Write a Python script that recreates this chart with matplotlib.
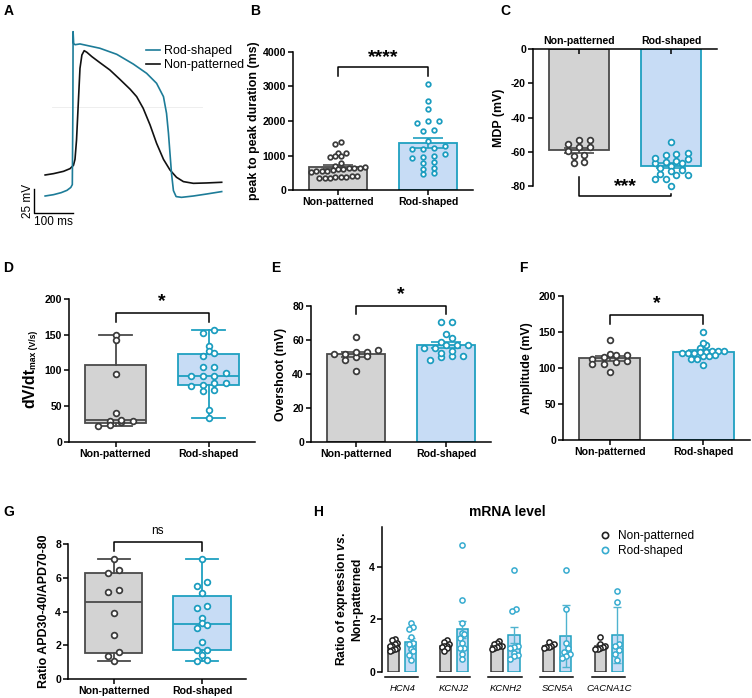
import numpy as np
import matplotlib
matplotlib.use('Agg')
import matplotlib.pyplot as plt
from matplotlib.lines import Line2D

plt.rcParams['font.family'] = ['Liberation Sans', 'DejaVu Sans']
plt.rcParams['font.weight'] = 'bold'
plt.rcParams['axes.labelweight'] = 'bold'
plt.rcParams['axes.unicode_minus'] = False
plt.rcParams['mathtext.fontset'] = 'custom'
plt.rcParams['mathtext.rm'] = 'Liberation Sans:bold'
plt.rcParams['mathtext.bf'] = 'Liberation Sans:bold'
plt.rcParams['mathtext.it'] = 'Liberation Sans:italic:bold'

# ---------------- data ----------------
groups = ['Non-patterned', 'Rod-shaped']

# Panel A: representative action potentials (ms, mV)
a_t_rod = [-72, -50, -30, -15, -5, -1, 0.5, 1, 2.5, 6, 19, 71, 115, 158, 193, 219, 237,
           245, 250, 254, 258, 263, 270, 284, 315, 350, 389]
a_v_rod = [-92.4, -91.0, -88.9, -86.5, -83.5, -80.5, 0.0, 78.8, 66.5, 65.2, 66.0, 61.5, 55.2,
           45.1, 35.4, 25.0, 11.1, -6.3, -27.0, -48.0, -68.8, -86.8, -93.0, -93.8, -92.4, -90.3, -87.8]
a_t_np = [-72, -50, -24, -7, 2, 6, 10, 15, 19, 24, 30, 37, 50, 71, 97, 123, 150, 167, 184,
          202, 219, 237, 254, 271, 289, 315, 350, 389]
a_v_np = [-70.5, -69.1, -66.7, -63.9, -60.4, -54.2, -34.0, 7.6, 40.6, 54.5, 59.0, 57.3, 52.8,
          46.5, 38.9, 29.2, 18.8, 11.1, -1.0, -18.4, -37.5, -54.2, -65.3, -72.9, -77.4, -79.2,
          -78.8, -78.1]

# Panel B: peak to peak duration (ms)
b_np = [1380, 1330, 1080, 1060, 1000, 975, 945, 790, 700, 660, 650, 640, 630, 620, 600, 590,
        560, 550, 540, 530, 420, 400, 390, 380, 370, 360, 350, 340]
b_rs = [3060, 2580, 2360, 2000, 1990, 1950, 1700, 1730, 1420, 1210, 1190, 1200, 1280, 1030,
        960, 940, 1000, 800, 790, 650, 460, 500, 600]

# Panel C: MDP (mV)
c_np = [-53.1, -53.1, -57.0, -55.6, -57.4, -59.3, -61.9, -62.4, -66.7, -65.8]
c_rs = [-60.9, -64.4, -68.1, -73.2, -61.9, -66.3, -71.0, -75.9, -54.4, -61.5, -65.2, -69.3,
        -73.6, -79.8, -63.4, -66.7, -70.6, -75.9, -66.1, -73.6]

# Panel D: dV/dt max (V/s)
d_np = [150, 143, 95, 40, 30, 28, 29, 31, 24, 23]
d_rs = [157, 153, 134, 127, 124, 120, 105, 105, 93, 93, 92, 96, 83, 83, 79, 80, 73, 72, 45, 33]

# Panel E: overshoot (mV)
e_np = [52.8, 51.9, 54.4, 50.1, 52.8, 48.1, 50.7, 51.9, 61.8, 41.5]
e_rs = [70.6, 70.6, 61.4, 63.8, 58.9, 55.4, 50.1, 56.8, 57.0, 55.4, 57.0, 50.5, 50.5, 53.4,
        52.4, 48.1]

# Panel F: amplitude (mV)
f_np = [112.5, 115.7, 105.6, 138.9, 119.0, 109.3, 94.0, 118.0, 105.6, 118.0, 109.0]
f_rs = [150, 132, 135, 120.4, 122.7, 124, 112.5, 124, 116.7, 104, 124, 112.5, 118, 120.4,
        127.4, 116.7, 121.8, 120.4]

# Panel G: ratio APD30-40/APD70-80
g_np = [7.09, 6.46, 6.26, 5.17, 5.27, 3.94, 2.59, 1.60, 1.35, 1.05]
g_rs = [7.11, 5.72, 5.50, 5.11, 4.18, 4.32, 3.62, 3.33, 3.05, 3.19, 2.20, 1.74, 1.70, 1.41,
        1.07, 1.11]

# Panel H: mRNA level
h_genes = ['HCN4', 'KCNJ2', 'KCNH2', 'SCN5A', 'CACNA1C']
h_np = [[1.27, 1.20, 1.10, 1.05, 1.00, 0.97, 0.92, 0.88, 0.82, 0.78],
        [1.22, 1.12, 1.05, 1.00, 0.98, 0.95, 0.90, 0.78],
        [1.18, 1.10, 1.05, 1.00, 0.97, 0.93, 0.90, 0.87],
        [1.15, 1.05, 1.00, 0.95, 0.93, 0.92],
        [1.32, 1.08, 1.00, 0.95, 0.90, 0.88, 0.87]]
h_rs = [[1.87, 1.72, 1.65, 1.32, 1.10, 1.05, 0.88, 0.80, 0.65, 0.45],
        [4.83, 2.74, 1.87, 1.47, 1.45, 1.30, 1.10, 0.92, 0.90, 0.70, 0.48],
        [3.87, 2.40, 2.32, 1.00, 0.95, 0.90, 0.72, 0.65, 0.60, 0.50],
        [3.88, 2.38, 1.10, 0.90, 0.75, 0.70, 0.60, 0.55],
        [3.08, 2.65, 1.08, 1.00, 0.85, 0.70, 0.45]]
h_np_err = [0.05, 0.05, 0.04, 0.04, 0.05]
h_rs_err = [0.15, 0.32, 0.30, 1.17, 1.05]

# ---------------- style ----------------
W, H = 752, 698
fig = plt.figure(figsize=(W / 100, H / 100), dpi=100)

NP_EDGE = '#4a4a4a'
NP_FILL = '#d3d3d3'
RS_EDGE = '#1fa0c0'
RS_FILL = '#c7dcf5'
NP_PT = '#3a3a3a'
RS_PT = '#1a9cbf'
TEAL_TRACE = '#1d7c98'
TICK_FS = 7.6
LAB_FS = 8.9


def rect(x0, y0, x1, y1):
    return [x0 / W, 1 - y1 / H, (x1 - x0) / W, (y1 - y0) / H]


def style(ax, ylim, yticks, xlim=(-0.5, 1.5)):
    for s in ['top', 'right']:
        ax.spines[s].set_visible(False)
    for s in ['left', 'bottom']:
        ax.spines[s].set_linewidth(1.1)
    ax.set_xlim(*xlim)
    ax.set_ylim(*ylim)
    ax.set_yticks(yticks)
    ax.set_xticks([0, 1])
    ax.set_xticklabels(groups)
    ax.tick_params(axis='both', length=3.5, width=1.1, labelsize=TICK_FS, pad=1.5)


def swarm(ax, xc, vals, sp_px, d_px):
    """Row-based scatter layout: points closer than d_px vertically share a row,
    each row is centred on the category."""
    vals = np.asarray(vals, float)
    tr = ax.transData
    pts = tr.transform(np.column_stack([np.full(len(vals), xc), vals]))
    ypix = pts[:, 1]
    x0 = pts[0, 0]
    order = np.argsort(ypix)
    rows = []
    cur = [order[0]]
    for i in order[1:]:
        if ypix[i] - ypix[cur[0]] < d_px:
            cur.append(i)
        else:
            rows.append(cur)
            cur = [i]
    rows.append(cur)
    offs = np.zeros(len(vals))
    for row in rows:
        n = len(row)
        for j, i in enumerate(row):
            offs[i] = (j - (n - 1) / 2) * sp_px
    xs = tr.inverted().transform(np.column_stack([x0 + offs, ypix]))[:, 0]
    return xs


def points(ax, xc, vals, sp, color, s=17, d=4.5, lw=1.25, z=4):
    xs = swarm(ax, xc, vals, sp, d)
    ax.scatter(xs, vals, s=s, facecolor='white', edgecolor=color, linewidth=lw, zorder=z,
               clip_on=False)


def bars(ax, data_list, sps, s=17):
    cols = [(NP_FILL, NP_EDGE, NP_PT), (RS_FILL, RS_EDGE, RS_PT)]
    for i, vals in enumerate(data_list):
        v = np.asarray(vals, float)
        m = v.mean()
        e = v.std(ddof=1) / np.sqrt(len(v))
        fill, edge, pt = cols[i]
        ax.bar(i, m, width=0.65, color=fill, edgecolor=edge, linewidth=1.3, zorder=1)
        ax.errorbar(i, m, yerr=e, color=edge, capsize=11, elinewidth=1.2, capthick=1.2,
                    zorder=3)
        points(ax, i, v, sps[i], pt, s=s)


def boxes(ax, data_list, sps, s=17):
    cols = [(NP_FILL, NP_EDGE, NP_PT), (RS_FILL, RS_EDGE, RS_PT)]
    for i, vals in enumerate(data_list):
        v = np.asarray(vals, float)
        q1, med, q3 = np.percentile(v, [25, 50, 75], method='weibull')
        st = dict(med=med, q1=q1, q3=q3, whislo=v.min(), whishi=v.max(), fliers=[])
        fill, edge, pt = cols[i]
        ax.bxp([st], positions=[i], widths=0.65, patch_artist=True, showfliers=False,
               boxprops=dict(facecolor=fill, edgecolor=edge, linewidth=1.3),
               medianprops=dict(color=edge, linewidth=1.3),
               whiskerprops=dict(color=edge, linewidth=1.3),
               capprops=dict(color=edge, linewidth=1.3), capwidths=0.36,
               manage_ticks=False, zorder=1)
        points(ax, i, v, sps[i], pt, s=s)


def bracket(ax, y_top, y_bot, label, y_text, size=14, weight='bold'):
    ax.plot([0, 0, 1, 1], [y_bot, y_top, y_top, y_bot], color='black', lw=1.1,
            clip_on=False, zorder=5)
    ax.text(0.5, y_text, label, ha='center', va='center', fontsize=size, fontweight=weight,
            clip_on=False)


def panel_letter(x, y, s):
    fig.text(x / W, 1 - y / H, s, fontsize=10, fontweight='bold', ha='left', va='center')


# ---------------- Panel A ----------------
axA = fig.add_axes(rect(20, 20, 240, 235))
axA.set_xlim((20 - 72.7) / 0.383, (240 - 72.7) / 0.383)
axA.set_ylim((107.3 - 235) / 0.96, (107.3 - 20) / 0.96)
axA.axis('off')
axA.plot([-54, 337], [0, 0], color='#ebebeb', lw=0.6, zorder=0)
axA.plot(a_t_np, a_v_np, color='#111111', lw=1.2, label='Non-patterned', zorder=2)
axA.plot(a_t_rod, a_v_rod, color=TEAL_TRACE, lw=1.2, label='Rod-shaped', zorder=3)
vb = (107.3 - 212.7) / 0.96
axA.plot([-100, -100, 0], [vb + 25, vb, vb], color='black', lw=1.0, clip_on=False)
axA.text(-118, vb + 12.5, '25 mV', rotation=90, ha='center', va='center', fontsize=8.5,
         fontweight='normal')
axA.text(-50, vb - 9.5, '100 ms', ha='center', va='center', fontsize=8.5, fontweight='normal')
hA = [Line2D([0], [0], color=TEAL_TRACE, lw=1.2), Line2D([0], [0], color='#111111', lw=1.2)]
fig.legend(hA, ['Rod-shaped', 'Non-patterned'], loc='upper left',
           bbox_to_anchor=(140 / W, 1 - 39 / H), frameon=False,
           handlelength=1.1, handletextpad=0.3, labelspacing=0.15, borderpad=0,
           prop={'weight': 'normal', 'size': 9})

# ---------------- Panel B ----------------
axB = fig.add_axes(rect(293, 52, 473, 190))
style(axB, (0, 4000), [0, 1000, 2000, 3000, 4000])
bars(axB, [b_np, b_rs], [5.4, 11], s=11)
axB.set_ylabel('peak to peak duration (ms)', fontsize=LAB_FS, labelpad=2)
bracket(axB, 3554, 3313, '****', 3830)

# ---------------- Panel C ----------------
axC = fig.add_axes(rect(533, 49, 717, 186))
style(axC, (-80, 0), [0, -20, -40, -60, -80])
axC.spines['bottom'].set_visible(False)
axC.spines['top'].set_visible(True)
axC.spines['top'].set_linewidth(1.1)
axC.xaxis.tick_top()
axC.tick_params(axis='x', direction='in', pad=2)
bars(axC, [c_np, c_rs], [11, 11])
axC.set_ylabel('MDP (mV)', fontsize=LAB_FS, labelpad=4)
axC.plot([0, 0, 1, 1], [-74.6, -85.8, -85.8, -84.6], color='black', lw=1.1, clip_on=False)
axC.text(0.5, -80.5, '***', ha='center', va='center', fontsize=14, fontweight='bold')

# ---------------- Panel D ----------------
axD = fig.add_axes(rect(69, 299, 255, 442))
style(axD, (0, 200), [0, 50, 100, 150, 200])
boxes(axD, [d_np, d_rs], [11.4, 11.4])
fig.text(30 / W, 1 - 388 / H, 'dV/dt', rotation=90, ha='center', va='center', fontsize=11.5,
         fontweight='bold')
fig.text(34 / W, 1 - 350 / H, 'max (V/s)', rotation=90, ha='center', va='center', fontsize=6.2,
         fontweight='bold')
bracket(axD, 181, 168, '*', 196)

# ---------------- Panel E ----------------
axE = fig.add_axes(rect(311, 306, 491, 442))
style(axE, (0, 80), [0, 20, 40, 60, 80])
bars(axE, [e_np, e_rs], [11, 11])
axE.set_ylabel('Overshoot (mV)', fontsize=LAB_FS, labelpad=4)
bracket(axE, 80.2, 75.5, '*', 86.5)

# ---------------- Panel F ----------------
axF = fig.add_axes(rect(563, 296, 750, 440))
style(axF, (0, 200), [0, 50, 100, 150, 200])
bars(axF, [f_np, f_rs], [11.6, 6])
axF.set_ylabel('Amplitude (mV)', fontsize=LAB_FS, labelpad=4)
bracket(axF, 173.6, 161, '*', 189)

# ---------------- Panel G ----------------
axG = fig.add_axes(rect(68, 544, 246, 679))
style(axG, (0, 8), [0, 2, 4, 6, 8], xlim=(-0.52, 1.5))
boxes(axG, [g_np, g_rs], [11, 10.7])
axG.set_ylabel('Ratio APD30-40/APD70-80', fontsize=LAB_FS, labelpad=4)
bracket(axG, 8.1, 7.58, 'ns', 8.75, size=8.5, weight='normal')

# ---------------- Panel H ----------------
axH = fig.add_axes(rect(382, 527, 700, 672))
axH.set_xlim(-0.39, (700 - 402) / 51.7)
axH.set_ylim(0, 5.5)
for s in ['top', 'right', 'bottom']:
    axH.spines[s].set_visible(False)
axH.spines['left'].set_linewidth(1.1)
axH.set_yticks([0, 2, 4])
axH.set_xticks([])
axH.tick_params(axis='y', length=3.5, width=1.1, labelsize=TICK_FS, pad=1.5)
off, bw = 0.165, 0.22
for i, g in enumerate(h_genes):
    vn = np.asarray(h_np[i])
    vr = np.asarray(h_rs[i])
    axH.bar(i - off, vn.mean(), width=bw, color=NP_FILL, edgecolor='#333333', linewidth=1.1,
            zorder=1)
    axH.bar(i + off, vr.mean(), width=bw, color=RS_FILL, edgecolor=RS_EDGE, linewidth=1.1,
            zorder=1)
    axH.errorbar(i - off, vn.mean(), yerr=h_np_err[i], color='#333333', capsize=3,
                 elinewidth=1.0, capthick=1.0, zorder=2)
    axH.errorbar(i + off, vr.mean(), yerr=h_rs_err[i], color='#4fb3cf', capsize=3,
                 elinewidth=1.0, capthick=1.0, zorder=2)
    points(axH, i - off, vn, 2.5, '#222222', s=14, d=4, lw=1.1)
    points(axH, i + off, vr, 4.0, '#38acd0', s=14, d=4, lw=1.1)
    axH.plot([i - 0.33, i + 0.31], [-0.19, -0.19], color='black', lw=1.1, clip_on=False)
    axH.text(i, -0.62, g, ha='center', va='center', fontsize=6.8, fontstyle='italic',
             fontweight='normal')
axH.set_ylabel('Ratio of expression $\\mathit{vs.}$\nNon-patterned', fontsize=8.7,
               labelpad=4)
fig.text(507 / W, 1 - 512 / H, 'mRNA level', ha='center', va='center', fontsize=10,
         fontweight='bold')
hH = [Line2D([0], [0], marker='o', ls='none', markersize=4.5, markerfacecolor='white',
             markeredgecolor='#222222', markeredgewidth=1.2),
      Line2D([0], [0], marker='o', ls='none', markersize=4.5, markerfacecolor='white',
             markeredgecolor='#38acd0', markeredgewidth=1.2)]
fig.legend(hH, ['Non-patterned', 'Rod-shaped'], loc='upper left',
           bbox_to_anchor=(594 / W, 1 - 524 / H), frameon=False, handlelength=0.8,
           handletextpad=0.7, labelspacing=0.25, borderpad=0,
           prop={'weight': 'normal', 'size': 8.6})

# panel letters
panel_letter(4, 11, 'A')
panel_letter(250, 11, 'B')
panel_letter(500, 11, 'C')
panel_letter(3, 268, 'D')
panel_letter(271, 268, 'E')
panel_letter(519, 268, 'F')
panel_letter(3, 512, 'G')
panel_letter(313, 512, 'H')

fig.savefig('out.png', dpi=100)
